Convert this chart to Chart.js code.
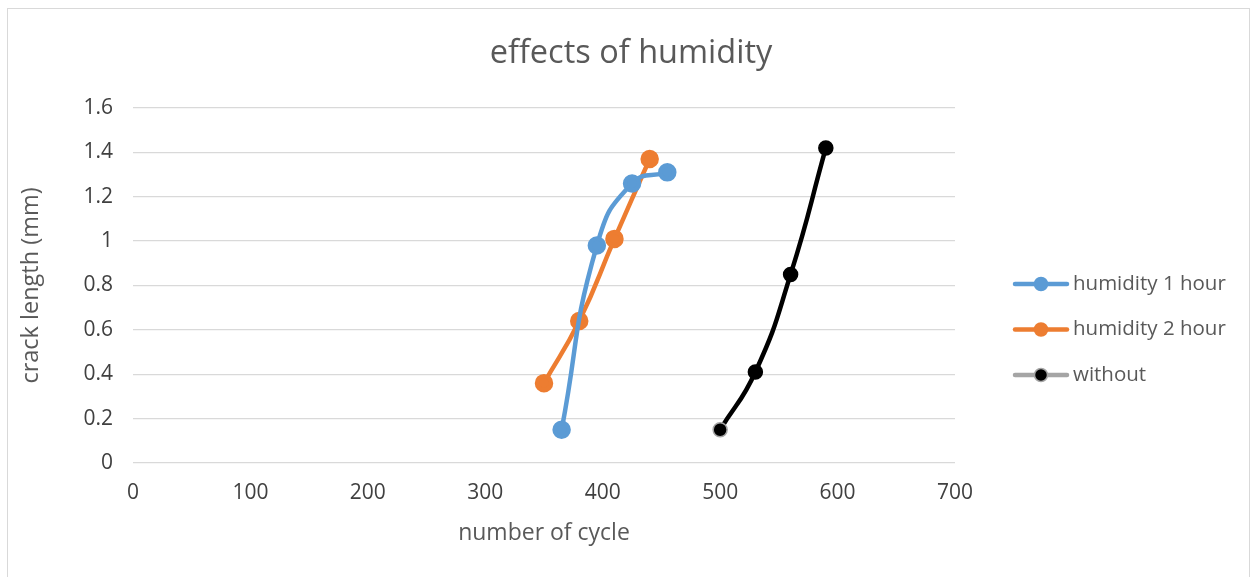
<!DOCTYPE html>
<html>
<head>
<meta charset="utf-8">
<script src="https://cdn.jsdelivr.net/npm/chart.js@4.4.1/dist/chart.umd.min.js"></script>
<style>
  html, body { margin: 0; padding: 0; background: #fff; }
  #wrap { width: 1254px; height: 577px; position: relative; }
</style>
</head>
<body>
<div id="wrap"><canvas id="chart" width="1254" height="577"></canvas></div>
<script>
// dati
const seriesNames = ["humidity 1 hour", "humidity 2 hour", "without"];
const hum1X = [365, 395, 425, 455];
const hum1Y = [0.15, 0.98, 1.26, 1.31];
const hum2X = [350, 380, 410, 440];
const hum2Y = [0.36, 0.64, 1.01, 1.37];
const withoutX = [500, 530, 560, 590];
const withoutY = [0.15, 0.41, 0.85, 1.42];

const FONT = "'Open Sans', 'Noto Sans', sans-serif";
const TXT = "#595959";
const TICK = "#404040";

function toPoints(xs, ys) {
    return xs.map((x, i) => ({ x: x, y: ys[i] }));
}

// legenda disegnata a mano (linea + pallino come in Excel)
const legendItems = [
    { line: "#5B9BD5", fill: "#5B9BD5", border: "#5B9BD5" },
    { line: "#ED7D31", fill: "#ED7D31", border: "#ED7D31" },
    { line: "#A5A5A5", fill: "#000000", border: "#A5A5A5" }
];

const decorPlugin = {
    id: "decor",
    beforeDraw(chart) {
        const c = chart.ctx;
        c.save();
        c.fillStyle = "#fff";
        c.fillRect(0, 0, chart.width, chart.height);
        c.strokeStyle = "#d9d9d9";
        c.lineWidth = 1;
        c.strokeRect(7.5, 8.5, 1242, 620);
        c.restore();
    },
    afterDraw(chart) {
        const c = chart.ctx;
        c.save();
        // titolo
        c.fillStyle = TXT;
        c.font = "32.5px " + FONT;
        c.textAlign = "center";
        c.textBaseline = "middle";
        c.fillText("effects of humidity", 631, 54);
        // legenda
        c.font = "20.5px " + FONT;
        c.textAlign = "left";
        for (let i = 0; i < seriesNames.length; i++) {
            const it = legendItems[i];
            const y = 284 + i * 45.5;
            c.strokeStyle = it.line;
            c.lineWidth = 4.5;
            c.lineCap = "round";
            c.beginPath();
            c.moveTo(1015, y);
            c.lineTo(1067, y);
            c.stroke();
            c.beginPath();
            c.arc(1041, y, 6.5, 0, Math.PI * 2);
            c.fillStyle = it.fill;
            c.fill();
            c.lineWidth = 1.5;
            c.strokeStyle = it.border;
            c.stroke();
            c.fillStyle = TXT;
            c.fillText(seriesNames[i], 1073, y);
        }
        c.restore();
    }
};

const ctx = document.getElementById("chart");
const myChart = new Chart(ctx, {
    type: "scatter",
    data: {
        datasets: [
            {
                label: seriesNames[0],
                data: toPoints(hum1X, hum1Y),
                showLine: true,
                borderColor: "#5B9BD5",
                backgroundColor: "#5B9BD5",
                pointBorderColor: "#5B9BD5",
                borderWidth: 4.5,
                tension: 0.5,
                pointRadius: 7,
                pointHoverRadius: 7
            },
            {
                label: seriesNames[1],
                data: toPoints(hum2X, hum2Y),
                showLine: true,
                borderColor: "#ED7D31",
                backgroundColor: "#ED7D31",
                pointBorderColor: "#ED7D31",
                borderWidth: 4.5,
                tension: 0.5,
                pointRadius: 7,
                pointHoverRadius: 7
            },
            {
                label: seriesNames[2],
                data: toPoints(withoutX, withoutY),
                showLine: true,
                borderColor: "#000000",
                backgroundColor: "#000000",
                pointBorderColor: ["#A5A5A5", "#000", "#000", "#000"],
                pointBorderWidth: 1.5,
                borderWidth: 4.5,
                tension: 0.5,
                pointRadius: 7,
                pointHoverRadius: 7
            }
        ]
    },
    options: {
        responsive: false,
        animation: false,
        events: [],
        layout: { padding: { left: 13, right: 299, top: 108, bottom: 26 } },
        plugins: {
            legend: { display: false },
            title: { display: false },
            tooltip: { enabled: false }
        },
        scales: {
            x: {
                type: "linear",
                min: 0,
                max: 700,
                ticks: { stepSize: 100, color: TICK, font: { family: FONT, size: 21 }, padding: 17 },
                grid: { display: false, drawTicks: false },
                border: { display: false },
                title: {
                    display: true,
                    text: "number of cycle",
                    color: TXT,
                    font: { family: FONT, size: 23 }
                },
                afterFit(scale) { scale.height = 88; }
            },
            y: {
                type: "linear",
                min: 0,
                max: 1.6,
                ticks: {
                    stepSize: 0.2,
                    color: TICK,
                    font: { family: FONT, size: 21 },
                    padding: 20,
                    callback: (v) => String(+v.toFixed(1))
                },
                grid: { color: "#d9d9d9", lineWidth: 1.3, drawTicks: false },
                border: { display: false },
                title: {
                    display: true,
                    text: "crack length (mm)",
                    color: TXT,
                    font: { family: FONT, size: 23.5 }
                },
                afterFit(scale) { scale.width = 120; }
            }
        }
    },
    plugins: [decorPlugin]
});
</script>
</body>
</html>
